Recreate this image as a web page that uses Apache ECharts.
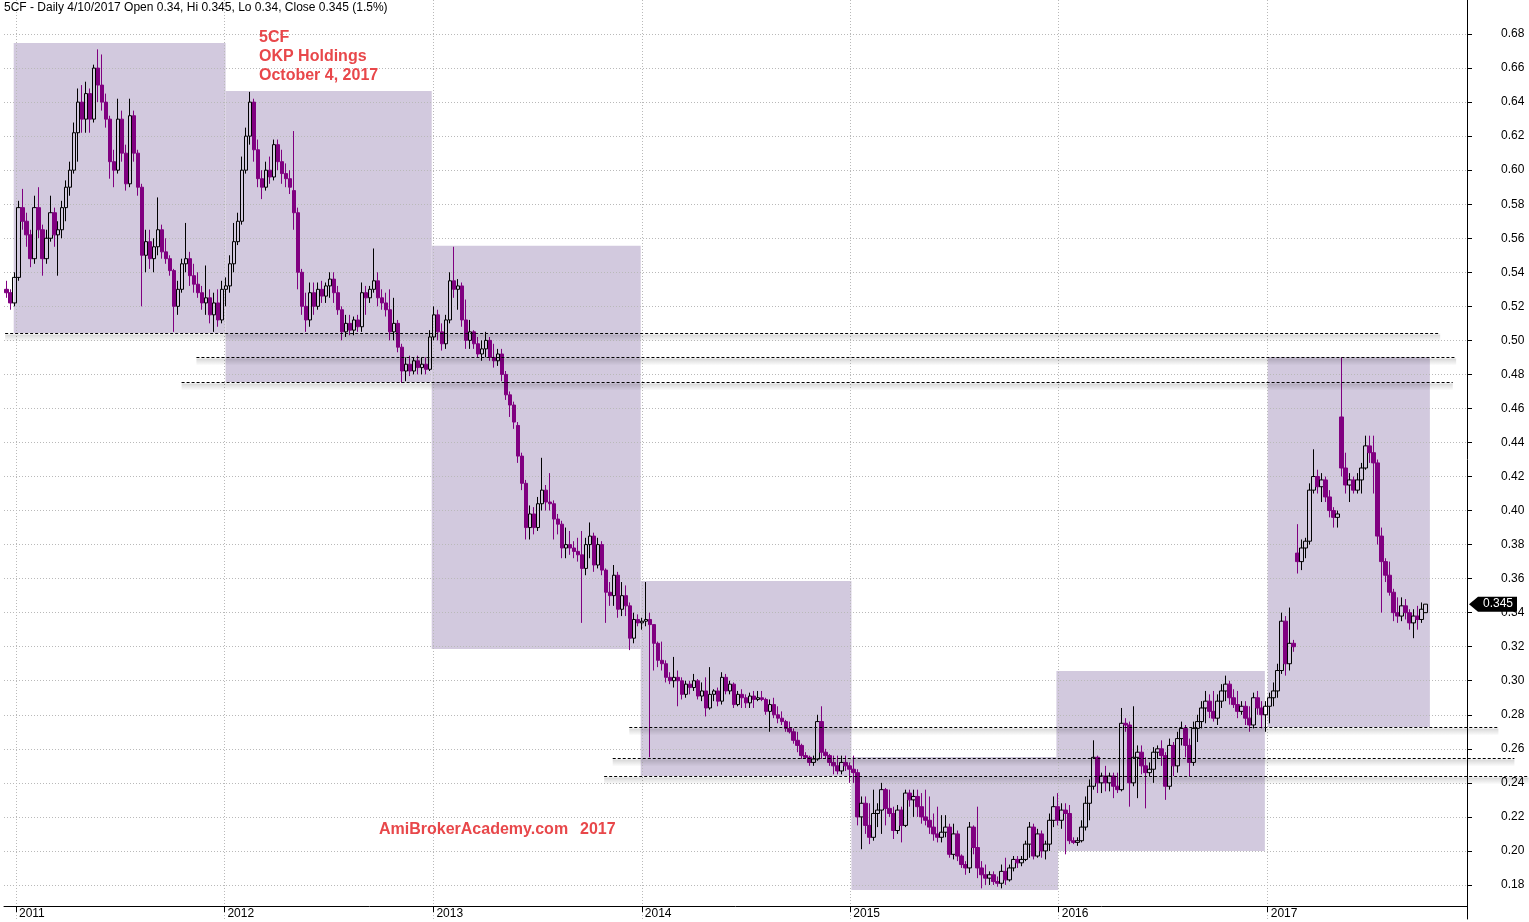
<!DOCTYPE html>
<html><head><meta charset="utf-8">
<script src="https://cdn.jsdelivr.net/npm/echarts@6/dist/echarts.min.js"></script>
<style>html,body{margin:0;padding:0;background:#fff}#c{width:1529px;height:922px}</style>
</head><body><div id="c"></div>
<script>
// ---- data (weekly bars, [open, high, low, close]) ----
const firstBar = '2010-12-15'; // Wednesday of the first weekly bar
const ohlc2010 = [[.530,.535,.525,.528],[.528,.530,.518,.522],[.522,.540,.520,.537]];
const ohlc2011 = [
[.537,.582,.535,.578],[.578,.589,.565,.570],[.570,.575,.555,.562],[.562,.565,.543,.548],[.548,.585,.545,.578],
[.578,.590,.560,.565],[.565,.568,.538,.548],[.548,.565,.545,.560],[.560,.585,.558,.575],[.575,.578,.555,.562],
[.562,.570,.538,.565],[.565,.582,.560,.578],[.578,.594,.570,.590],[.590,.605,.585,.600],[.600,.628,.598,.622],
[.622,.648,.605,.640],[.640,.650,.622,.630],[.630,.652,.622,.645],[.645,.648,.622,.630],[.630,.662,.628,.660],
[.660,.671,.640,.650],[.650,.668,.635,.640],[.640,.645,.625,.630],[.630,.632,.595,.605],[.605,.612,.590,.600],
[.600,.642,.598,.630],[.630,.635,.605,.610],[.610,.615,.588,.592],[.592,.642,.590,.632],[.632,.635,.605,.610],
[.610,.612,.585,.590],[.590,.592,.520,.550],[.550,.565,.540,.558],[.558,.565,.542,.548],[.548,.560,.540,.555],
[.555,.584,.550,.565],[.565,.568,.548,.552],[.552,.560,.545,.548],[.548,.550,.538,.541],[.541,.542,.505,.520],
[.520,.535,.515,.530],[.530,.548,.528,.545],[.545,.569,.540,.548],[.548,.552,.532,.538],[.538,.545,.528,.533],
[.533,.540,.525,.528],[.528,.532,.518,.522],[.522,.544,.515,.525],[.525,.530,.510,.515],[.515,.528,.505,.522],
[.522,.530,.508,.512],[.512,.535,.510,.530]];
const ohlc2012 = [
[.530,.537,.520,.532],[.532,.550,.528,.545],[.545,.569,.540,.558],[.558,.575,.556,.570],[.570,.608,.568,.600],
[.600,.625,.598,.620],[.620,.646,.615,.640],[.640,.642,.605,.612],[.612,.618,.590,.595],[.595,.600,.583,.590],
[.590,.605,.588,.600],[.600,.608,.592,.596],[.596,.618,.594,.615],[.615,.618,.600,.605],[.605,.612,.592,.598],
[.598,.604,.590,.595],[.595,.600,.586,.590],[.588,.623,.565,.575],[.575,.578,.530,.540],[.540,.542,.515,.520],
[.520,.528,.505,.512],[.512,.534,.508,.528],[.528,.534,.515,.520],[.520,.534,.518,.530],[.530,.535,.522,.526],
[.526,.534,.522,.532],[.532,.540,.525,.536],[.536,.540,.522,.528],[.528,.532,.515,.518],[.518,.520,.500,.505],
[.505,.515,.502,.510],[.510,.515,.503,.506],[.506,.514,.503,.512],[.512,.515,.505,.508],[.508,.534,.505,.528],
[.528,.532,.515,.525],[.525,.532,.522,.530],[.530,.554,.528,.535],[.535,.540,.520,.525],[.525,.530,.518,.522],
[.522,.528,.514,.518],[.518,.530,.500,.505],[.505,.525,.500,.510],[.510,.512,.493,.496],[.496,.498,.475,.482],
[.482,.490,.476,.486],[.486,.491,.479,.482],[.482,.490,.480,.488],[.488,.491,.480,.484],[.484,.490,.480,.486],
[.486,.490,.480,.483],[.483,.506,.482,.502]];
const ohlc2013 = [
[.502,.520,.500,.515],[.515,.518,.500,.505],[.505,.510,.494,.498],[.498,.515,.495,.512],[.512,.540,.510,.535],
[.535,.555,.525,.530],[.530,.536,.518,.532],[.532,.534,.508,.512],[.512,.524,.495,.500],[.500,.512,.495,.505],
[.505,.506,.495,.498],[.498,.502,.490,.492],[.492,.500,.488,.495],[.495,.505,.490,.500],[.500,.502,.488,.490],
[.490,.498,.484,.488],[.488,.495,.485,.492],[.492,.495,.476,.480],[.480,.482,.465,.468],[.468,.470,.455,.462],
[.462,.464,.448,.452],[.450,.452,.428,.432],[.432,.434,.412,.416],[.416,.418,.383,.390],[.390,.403,.383,.398],
[.398,.402,.386,.390],[.390,.408,.388,.404],[.404,.431,.400,.412],[.412,.415,.400,.405],[.405,.422,.400,.404],
[.404,.406,.383,.395],[.395,.398,.386,.392],[.392,.394,.372,.378],[.378,.390,.372,.380],[.380,.388,.374,.378],
[.378,.382,.372,.376],[.376,.384,.370,.374],[.374,.388,.334,.366],[.366,.384,.362,.380],[.380,.393,.372,.385],
[.385,.387,.364,.368],[.368,.384,.366,.380],[.380,.382,.362,.365],[.365,.366,.334,.352],[.352,.358,.344,.350],
[.350,.368,.344,.362],[.362,.364,.337,.342],[.342,.358,.338,.350],[.350,.356,.338,.344],[.344,.346,.318,.325],
[.325,.340,.322,.336],[.336,.339,.332,.334]];
const ohlc2014 = [
[.334,.337,.330,.335],[.335,.358,.332,.336],[.336,.340,.255,.333],[.333,.333,.306,.322],[.322,.323,.308,.312],
[.312,.323,.306,.310],[.310,.312,.299,.302],[.302,.305,.298,.300],[.300,.314,.296,.302],[.302,.306,.285,.300],
[.300,.302,.289,.292],[.292,.300,.290,.298],[.298,.300,.292,.296],[.296,.304,.294,.300],[.300,.301,.289,.291],
[.291,.299,.288,.294],[.294,.302,.279,.284],[.284,.308,.283,.292],[.292,.295,.288,.294],[.294,.296,.285,.288],
[.288,.305,.286,.302],[.302,.304,.292,.294],[.294,.300,.292,.298],[.298,.299,.284,.286],[.286,.294,.285,.292],
[.292,.295,.284,.290],[.290,.292,.284,.287],[.287,.293,.284,.291],[.291,.294,.284,.289],[.289,.294,.288,.290],
[.290,.294,.288,.289],[.289,.290,.280,.282],[.282,.289,.270,.286],[.286,.290,.278,.280],[.280,.285,.275,.278],
[.278,.282,.274,.276],[.276,.277,.270,.272],[.272,.276,.269,.270],[.270,.272,.263,.265],[.265,.270,.258,.262],
[.262,.263,.254,.256],[.256,.258,.254,.255],[.255,.256,.250,.252],[.252,.256,.250,.254],[.254,.280,.253,.276],
[.276,.285,.254,.258],[.258,.260,.254,.256],[.256,.257,.250,.252],[.252,.256,.245,.250],[.250,.256,.245,.247],
[.247,.256,.245,.252],[.252,.256,.247,.250]];
const ohlc2015 = [
[.250,.252,.240,.248],[.248,.256,.240,.246],[.246,.248,.215,.220],[.220,.232,.201,.228],[.228,.232,.210,.215],
[.215,.228,.204,.208],[.208,.236,.206,.222],[.222,.228,.214,.224],[.224,.240,.210,.236],[.236,.237,.215,.225],
[.225,.236,.220,.222],[.222,.226,.207,.212],[.212,.227,.210,.224],[.224,.226,.205,.215],[.215,.236,.214,.234],
[.234,.236,.226,.230],[.230,.236,.220,.232],[.232,.236,.220,.226],[.226,.234,.216,.220],[.220,.236,.215,.218],
[.218,.232,.210,.214],[.214,.222,.206,.210],[.210,.226,.205,.208],[.208,.221,.205,.211],[.211,.221,.208,.214],
[.214,.216,.196,.198],[.198,.216,.195,.210],[.210,.212,.194,.197],[.197,.198,.190,.192],[.192,.194,.186,.190],
[.190,.217,.187,.214],[.214,.215,.198,.202],[.202,.226,.184,.190],[.190,.194,.178,.186],[.186,.192,.180,.184],
[.184,.188,.180,.186],[.186,.188,.180,.182],[.182,.185,.179,.181],[.181,.192,.178,.188],[.188,.196,.180,.183],
[.183,.192,.182,.190],[.190,.197,.188,.195],[.195,.197,.190,.193],[.193,.197,.191,.195],[.195,.206,.194,.204],
[.204,.217,.196,.214],[.214,.216,.195,.197],[.197,.213,.196,.210],[.210,.212,.196,.200],[.200,.206,.195,.204],
[.204,.222,.200,.218],[.218,.232,.214,.226]];
const ohlc2016 = [
[.226,.234,.215,.218],[.218,.228,.213,.224],[.224,.228,.198,.222],[.222,.227,.204,.206],[.206,.208,.204,.205],
[.205,.208,.203,.206],[.206,.218,.205,.214],[.214,.232,.212,.228],[.228,.242,.218,.238],[.238,.265,.236,.255],
[.255,.256,.234,.240],[.240,.246,.234,.244],[.244,.250,.235,.240],[.240,.246,.235,.244],[.244,.246,.231,.238],
[.238,.246,.234,.236],[.236,.284,.235,.275],[.275,.278,.270,.274],[.274,.276,.226,.240],[.240,.285,.238,.255],
[.255,.262,.231,.258],[.258,.262,.245,.250],[.250,.255,.225,.246],[.246,.252,.244,.248],[.248,.261,.240,.258],
[.258,.262,.254,.260],[.260,.265,.250,.256],[.256,.258,.230,.238],[.238,.266,.236,.262],[.262,.264,.244,.250],
[.250,.270,.246,.266],[.266,.276,.262,.272],[.272,.274,.255,.262],[.262,.266,.244,.252],[.252,.276,.250,.272],
[.272,.280,.264,.276],[.276,.288,.272,.284],[.284,.294,.275,.288],[.288,.292,.278,.282],[.282,.294,.276,.278],
[.278,.292,.274,.288],[.288,.298,.284,.294],[.294,.303,.288,.298],[.298,.300,.286,.290],[.290,.295,.284,.286],
[.286,.294,.278,.282],[.282,.288,.280,.285],[.285,.288,.274,.278],[.278,.285,.270,.274],[.274,.293,.272,.290],
[.290,.294,.280,.284],[.284,.288,.272,.280],[.280,.288,.270,.285]];
const ohlc2017 = [
[.285,.293,.275,.290],[.290,.299,.285,.294],[.294,.310,.290,.306],[.306,.340,.304,.335],[.335,.338,.303,.310],
[.310,.343,.306,.322],[.322,.324,.317,.320],[.375,.392,.363,.370],[.370,.383,.365,.378],[.378,.384,.372,.382],
[.382,.416,.380,.412],[.412,.436,.410,.420],[.420,.424,.410,.414],[.414,.422,.405,.418],[.418,.420,.405,.408],
[.408,.412,.396,.400],[.400,.402,.390,.396],[.396,.400,.390,.398],[.455,.490,.420,.425],[.425,.434,.410,.415],
[.415,.422,.405,.418],[.418,.420,.410,.412],[.412,.422,.410,.418],[.418,.428,.410,.425],[.425,.444,.424,.438],
[.438,.444,.428,.434],[.434,.444,.410,.428],[.428,.430,.380,.385],[.385,.390,.340,.370],[.370,.372,.358,.362],
[.362,.370,.350,.352],[.352,.354,.335,.340],[.340,.349,.334,.338],[.338,.349,.335,.344],[.344,.348,.336,.340],
[.340,.342,.330,.334],[.334,.342,.325,.338],[.338,.344,.330,.336],[.336,.346,.334,.342],[.340,.345,.340,.345]];

// yearly boxes
const boxStart = ['2010-12-28','2012-01-03','2012-12-29','2013-12-30','2015-01-03','2015-12-28','2017-01-01'];
const boxEnd   = ['2012-01-03','2012-12-29','2013-12-30','2015-01-03','2015-12-31','2016-12-27','2017-10-12'];
const boxHigh  = [0.6747, 0.6465, 0.5556, 0.3586, 0.2552, 0.3057, 0.4902];
const boxLow   = [0.5043, 0.4755, 0.3187, 0.2440, 0.1771, 0.1999, 0.2728];

// horizontal dashed levels
const levelValue = [0.5043, 0.4902, 0.4755, 0.2728, 0.2546, 0.2440];
const levelStart = ['2010-12-13','2011-11-13','2011-10-18','2013-12-10','2013-11-11','2013-10-27'];
const levelEnd   = ['2017-10-30','2017-11-27','2017-11-21','2018-02-09','2018-03-09','2018-04-03'];

const lastClose = 0.345;
const headerText = '5CF - Daily 4/10/2017 Open 0.34, Hi 0.345, Lo 0.34, Close 0.345 (1.5%)';
const noteLines = '5CF\nOKP Holdings\nOctober 4, 2017';
const siteText = 'AmiBrokerAcademy.com';
const siteYear = '2017';

// ---- build ----
const DAY = 86400000;
const ts = s => { const p = s.split('-').map(Number); return Date.UTC(p[0], p[1]-1, p[2]); };
const bars = [].concat(ohlc2010, ohlc2011, ohlc2012, ohlc2013, ohlc2014, ohlc2015, ohlc2016, ohlc2017);
const t0 = ts(firstBar);
const candles = bars.map((d, i) => [t0 + i*7*DAY, d[0], d[3], Math.min(d[2], d[0], d[3]), Math.max(d[1], d[0], d[3])]);
const boxes = boxStart.map((s, i) => [{xAxis: ts(s), yAxis: boxHigh[i]}, {xAxis: ts(boxEnd[i]), yAxis: boxLow[i]}]);

const gridLine = {color: '#b9b9b9', width: 1, type: [1, 2]};
const option = {
  useUTC: true,
  animation: false,
  backgroundColor: '#ffffff',
  grid: {left: 4, right: 62, top: 0, bottom: 3},
  xAxis: {
    type: 'time', min: ts('2010-12-11'), max: ts('2017-12-16'),
    splitNumber: 7, minInterval: 365*DAY, maxInterval: 366*DAY,
    offset: -13, z: 2,
    axisLine: {onZero: false, lineStyle: {color: '#000', width: 1}},
    axisTick: {show: true, length: 6, lineStyle: {color: '#000'}},
    axisLabel: {color: '#000', fontSize: 12, fontFamily: 'Arial', align: 'left', margin: 2,
                padding: [0, 0, 0, 3], showMinLabel: false, showMaxLabel: false, formatter: '{yyyy}', hideOverlap: false},
    splitLine: {show: true, showMinLine: false, showMaxLine: false, lineStyle: gridLine}
  },
  yAxis: {
    type: 'value', position: 'right', min: 0.16, max: 0.70, interval: 0.02, z: 2,
    axisLine: {show: true, lineStyle: {color: '#000', width: 1}},
    axisTick: {show: true, length: 5, lineStyle: {color: '#000'}},
    axisLabel: {color: '#000', fontSize: 12, fontFamily: 'Arial', margin: 34,
                showMinLabel: false, showMaxLabel: false, formatter: v => v.toFixed(2)},
    splitLine: {show: true, showMinLine: false, showMaxLine: false, lineStyle: gridLine}
  },
  series: [{
    type: 'candlestick', data: candles, encode: {x: 0, y: [1, 2, 3, 4]},
    barWidth: 4, z: 3, clip: false,
    itemStyle: {color: 'rgba(0,0,0,0)', color0: '#800080', borderColor: '#000000', borderColor0: '#800080', borderWidth: 1},
    markArea: {silent: true, z: 1, itemStyle: {color: '#d2c9de', opacity: 1}, data: boxes}
  }]
};

const chart = echarts.init(document.getElementById('c'));
chart.setOption(option);

const px = t => chart.convertToPixel({xAxisIndex: 0}, t);
const py = v => chart.convertToPixel({yAxisIndex: 0}, v);

const graphics = [];
graphics.push({type: 'text', x: 4, y: 2, z: 20, silent: true,
  style: {text: headerText, font: '12px Arial', fill: '#000', align: 'left', verticalAlign: 'top'}});
graphics.push({type: 'text', x: 259, y: 28, z: 20, silent: true,
  style: {text: noteLines, font: 'bold 16px Arial', fill: '#e8474a', lineHeight: 19, align: 'left', verticalAlign: 'top'}});
graphics.push({type: 'text', x: 379, y: 822, z: 20, silent: true,
  style: {text: siteText, font: 'bold 16px Arial', fill: '#e8474a', align: 'left', verticalAlign: 'top'}});
graphics.push({type: 'text', x: 580, y: 822, z: 20, silent: true,
  style: {text: siteYear, font: 'bold 16px Arial', fill: '#e8474a', align: 'left', verticalAlign: 'top'}});

levelValue.forEach((v, i) => {
  const y = Math.round(py(v)) + 0.5;
  const x1 = px(ts(levelStart[i])), x2 = px(ts(levelEnd[i]));
  graphics.push({type: 'rect', z: 9, silent: true,
    shape: {x: x1, y: y + 1, width: x2 - x1, height: 7},
    style: {fill: {type: 'linear', x: 0, y: 0, x2: 0, y2: 1,
      colorStops: [{offset: 0, color: 'rgba(0,0,0,0.16)'}, {offset: 1, color: 'rgba(0,0,0,0)'}]}}});
  graphics.push({type: 'line', z: 10, silent: true,
    shape: {x1: x1, y1: y, x2: x2, y2: y},
    style: {stroke: '#000', lineWidth: 1, lineDash: [3, 2]}});
});

const ly = py(lastClose);
const ax = px(ts('2017-12-16')) + 2;
graphics.push({type: 'polygon', z: 20, silent: true,
  shape: {points: [[ax, ly], [ax + 9, ly - 7.5], [ax + 48, ly - 7.5], [ax + 48, ly + 7.5], [ax + 9, ly + 7.5]]},
  style: {fill: '#000'}});
graphics.push({type: 'text', x: ax + 29, y: ly, z: 21, silent: true,
  style: {text: lastClose.toFixed(3), font: '12px Arial', fill: '#fff', align: 'center', verticalAlign: 'middle'}});

chart.setOption({graphic: graphics});
</script>
</body></html>
